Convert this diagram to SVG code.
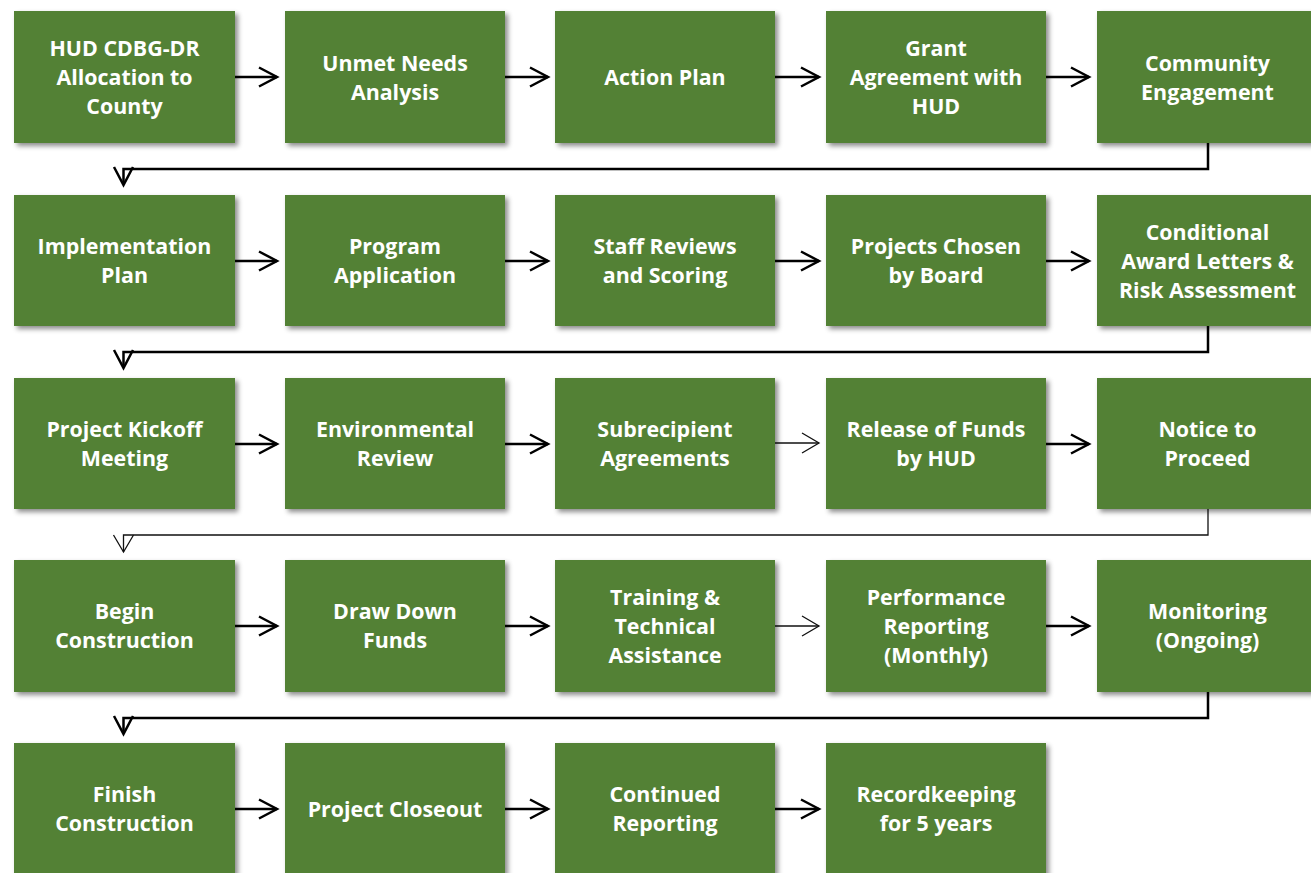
<svg xmlns="http://www.w3.org/2000/svg" width="1311" height="873" viewBox="0 0 1311 873">
  <style>
    .box { fill: #538135; filter: url(#shadow); }
    .lbl { font-family: "Open Sans", "Liberation Sans", sans-serif; font-weight: 700; font-size: 21.4px; fill: #ffffff; text-anchor: middle; }
    .thick { fill: none; stroke: #000000; stroke-width: 2.5; marker-end: url(#head); }
    .thin { fill: none; stroke: #111111; stroke-width: 1.3; marker-end: url(#headThin); }
  </style>
  <defs>
    <filter id="shadow" x="-10%" y="-10%" width="125%" height="125%">
      <feDropShadow dx="3" dy="3" stdDeviation="2.5" flood-color="#000000" flood-opacity="0.45"/>
    </filter>
    <marker id="head" markerUnits="userSpaceOnUse" viewBox="0 0 24 24" markerWidth="24" markerHeight="24" refX="20" refY="12" orient="auto">
      <path d="M2,2.5 L20,12 L2,21.5" fill="none" stroke="#000000" stroke-width="2.5"/>
    </marker>
    <marker id="headThin" markerUnits="userSpaceOnUse" viewBox="0 0 24 24" markerWidth="24" markerHeight="24" refX="20" refY="12" orient="auto">
      <path d="M3,2 L20,12 L3,22" fill="none" stroke="#111111" stroke-width="1.3"/>
    </marker>
  </defs>

  <rect width="1311" height="873" fill="#ffffff"/>

  <!-- connectors -->
  <g id="connectors">
    <!-- row 1 -->
    <path class="thick" d="M235,77 H277"/>
    <path class="thick" d="M505,77 H548"/>
    <path class="thick" d="M775,77 H819"/>
    <path class="thick" d="M1046,77 H1089"/>
    <path class="thick" d="M1208,143 V169 H123.5 V185"/>
    <!-- row 2 -->
    <path class="thick" d="M235,261 H277"/>
    <path class="thick" d="M505,261 H548"/>
    <path class="thick" d="M775,261 H819"/>
    <path class="thick" d="M1046,261 H1089"/>
    <path class="thick" d="M1208,326 V352 H123.5 V368"/>
    <!-- row 3 -->
    <path class="thick" d="M235,444 H277"/>
    <path class="thick" d="M505,444 H548"/>
    <path class="thin" d="M775,443 H819"/>
    <path class="thick" d="M1046,444 H1089"/>
    <path class="thin" d="M1208,509 V535 H123.5 V552"/>
    <!-- row 4 -->
    <path class="thick" d="M235,626 H277"/>
    <path class="thick" d="M505,626 H548"/>
    <path class="thin" d="M775,626 H819"/>
    <path class="thick" d="M1046,626 H1089"/>
    <path class="thick" d="M1208,692 V718 H123.5 V734"/>
    <!-- row 5 -->
    <path class="thick" d="M235,809 H277"/>
    <path class="thick" d="M505,809 H548"/>
    <path class="thick" d="M775,809 H819"/>
  </g>

  <!-- row 1 -->
  <g id="hud-allocation">
    <rect class="box" x="14" y="11" width="221" height="132"/>
    <text class="lbl" x="124.5" y="56">HUD CDBG-DR</text>
    <text class="lbl" x="124.5" y="85">Allocation to</text>
    <text class="lbl" x="124.5" y="114">County</text>
  </g>
  <g id="unmet-needs">
    <rect class="box" x="285" y="11" width="220" height="132"/>
    <text class="lbl" x="395" y="70.5">Unmet Needs</text>
    <text class="lbl" x="395" y="99.5">Analysis</text>
  </g>
  <g id="action-plan">
    <rect class="box" x="555" y="11" width="220" height="132"/>
    <text class="lbl" x="665" y="85">Action Plan</text>
  </g>
  <g id="grant-agreement">
    <rect class="box" x="826" y="11" width="220" height="132"/>
    <text class="lbl" x="936" y="56">Grant</text>
    <text class="lbl" x="936" y="85">Agreement with</text>
    <text class="lbl" x="936" y="114">HUD</text>
  </g>
  <g id="community-engagement">
    <rect class="box" x="1097" y="11" width="221" height="132"/>
    <text class="lbl" x="1207.5" y="70.5">Community</text>
    <text class="lbl" x="1207.5" y="99.5">Engagement</text>
  </g>

  <!-- row 2 -->
  <g id="implementation-plan">
    <rect class="box" x="14" y="195" width="221" height="131"/>
    <text class="lbl" x="124.5" y="254">Implementation</text>
    <text class="lbl" x="124.5" y="283">Plan</text>
  </g>
  <g id="program-application">
    <rect class="box" x="285" y="195" width="220" height="131"/>
    <text class="lbl" x="395" y="254">Program</text>
    <text class="lbl" x="395" y="283">Application</text>
  </g>
  <g id="staff-reviews">
    <rect class="box" x="555" y="195" width="220" height="131"/>
    <text class="lbl" x="665" y="254">Staff Reviews</text>
    <text class="lbl" x="665" y="283">and Scoring</text>
  </g>
  <g id="projects-chosen">
    <rect class="box" x="826" y="195" width="220" height="131"/>
    <text class="lbl" x="936" y="254">Projects Chosen</text>
    <text class="lbl" x="936" y="283">by Board</text>
  </g>
  <g id="conditional-award">
    <rect class="box" x="1097" y="195" width="221" height="131"/>
    <text class="lbl" x="1207.5" y="239.5">Conditional</text>
    <text class="lbl" x="1207.5" y="268.5">Award Letters &amp;</text>
    <text class="lbl" x="1207.5" y="297.5">Risk Assessment</text>
  </g>

  <!-- row 3 -->
  <g id="kickoff-meeting">
    <rect class="box" x="14" y="378" width="221" height="131"/>
    <text class="lbl" x="124.5" y="436.5">Project Kickoff</text>
    <text class="lbl" x="124.5" y="465.5">Meeting</text>
  </g>
  <g id="environmental-review">
    <rect class="box" x="285" y="378" width="220" height="131"/>
    <text class="lbl" x="395" y="436.5">Environmental</text>
    <text class="lbl" x="395" y="465.5">Review</text>
  </g>
  <g id="subrecipient-agreements">
    <rect class="box" x="555" y="378" width="220" height="131"/>
    <text class="lbl" x="665" y="436.5">Subrecipient</text>
    <text class="lbl" x="665" y="465.5">Agreements</text>
  </g>
  <g id="release-of-funds">
    <rect class="box" x="826" y="378" width="220" height="131"/>
    <text class="lbl" x="936" y="436.5">Release of Funds</text>
    <text class="lbl" x="936" y="465.5">by HUD</text>
  </g>
  <g id="notice-to-proceed">
    <rect class="box" x="1097" y="378" width="221" height="131"/>
    <text class="lbl" x="1207.5" y="436.5">Notice to</text>
    <text class="lbl" x="1207.5" y="465.5">Proceed</text>
  </g>

  <!-- row 4 -->
  <g id="begin-construction">
    <rect class="box" x="14" y="560" width="221" height="132"/>
    <text class="lbl" x="124.5" y="619">Begin</text>
    <text class="lbl" x="124.5" y="648">Construction</text>
  </g>
  <g id="draw-down-funds">
    <rect class="box" x="285" y="560" width="220" height="132"/>
    <text class="lbl" x="395" y="619">Draw Down</text>
    <text class="lbl" x="395" y="648">Funds</text>
  </g>
  <g id="training-assistance">
    <rect class="box" x="555" y="560" width="220" height="132"/>
    <text class="lbl" x="665" y="604.5">Training &amp;</text>
    <text class="lbl" x="665" y="633.5">Technical</text>
    <text class="lbl" x="665" y="662.5">Assistance</text>
  </g>
  <g id="performance-reporting">
    <rect class="box" x="826" y="560" width="220" height="132"/>
    <text class="lbl" x="936" y="604.5">Performance</text>
    <text class="lbl" x="936" y="633.5">Reporting</text>
    <text class="lbl" x="936" y="662.5">(Monthly)</text>
  </g>
  <g id="monitoring">
    <rect class="box" x="1097" y="560" width="221" height="132"/>
    <text class="lbl" x="1207.5" y="619">Monitoring</text>
    <text class="lbl" x="1207.5" y="648">(Ongoing)</text>
  </g>

  <!-- row 5 -->
  <g id="finish-construction">
    <rect class="box" x="14" y="743" width="221" height="132"/>
    <text class="lbl" x="124.5" y="802">Finish</text>
    <text class="lbl" x="124.5" y="831">Construction</text>
  </g>
  <g id="project-closeout">
    <rect class="box" x="285" y="743" width="220" height="132"/>
    <text class="lbl" x="395" y="816.5">Project Closeout</text>
  </g>
  <g id="continued-reporting">
    <rect class="box" x="555" y="743" width="220" height="132"/>
    <text class="lbl" x="665" y="802">Continued</text>
    <text class="lbl" x="665" y="831">Reporting</text>
  </g>
  <g id="recordkeeping">
    <rect class="box" x="826" y="743" width="220" height="132"/>
    <text class="lbl" x="936" y="802">Recordkeeping</text>
    <text class="lbl" x="936" y="831">for 5 years</text>
  </g>
</svg>
